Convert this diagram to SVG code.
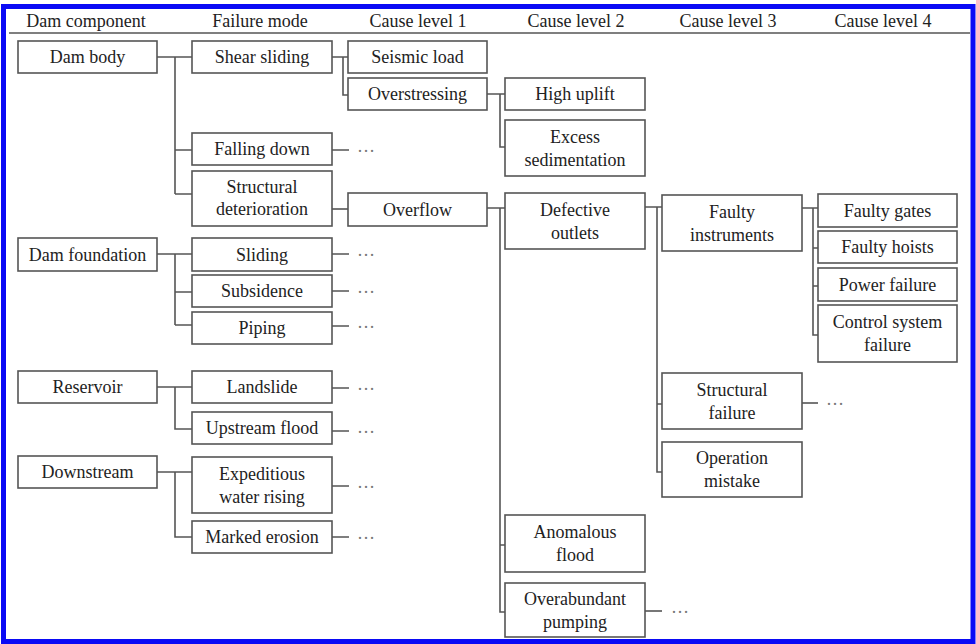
<svg xmlns="http://www.w3.org/2000/svg" width="976" height="644" viewBox="0 0 976 644">
<style>
  .box{fill:#fff;stroke:#555;stroke-width:1.6}
  text{font-family:'Liberation Serif','Times New Roman',Times,'DejaVu Serif',serif;font-size:18px}
  .t{fill:#222;text-anchor:middle}
  .h{fill:#222;text-anchor:middle}
  .c{fill:none;stroke:#555;stroke-width:1.6}
  .d{fill:#777}
</style>
<rect x="0" y="0" width="976" height="644" fill="#fff"/>
<rect x="3.5" y="6.5" width="969.5" height="635" fill="none" stroke="#0a0af5" stroke-width="5"/>
<g id="header" font-family="Liberation Serif, serif">
  <text class="h" x="86" y="27">Dam component</text>
  <text class="h" x="260" y="27">Failure mode</text>
  <text class="h" x="418" y="27">Cause level 1</text>
  <text class="h" x="576" y="27">Cause level 2</text>
  <text class="h" x="728" y="27">Cause level 3</text>
  <text class="h" x="883" y="27">Cause level 4</text>
  <line x1="9" y1="33" x2="970" y2="33" stroke="#555" stroke-width="1.6"/>
</g>
<g id="connectors">
  <path class="c" d="M157,57 H192 M175,57 V194 M175,150 H192 M175,194 H192"/>
  <path class="c" d="M157,254 H192 M175,254 V325 M175,292 H192 M175,325 H192"/>
  <path class="c" d="M157,387 H192 M175,387 V429 H192"/>
  <path class="c" d="M157,472 H192 M175,472 V537 H192"/>
  <path class="c" d="M332,150 H349 M332,254 H349 M332,291 H349 M332,326 H349 M332,388 H349 M332,431 H349 M332,486 H349 M332,537 H349"/>
  <path class="c" d="M332,57 H348 M343,57 V95 H348"/>
  <path class="c" d="M332,209 H348"/>
  <path class="c" d="M487,94 H505 M500,94 V147 H505"/>
  <path class="c" d="M487,208 H505 M500,208 V612 H505 M500,545 H505"/>
  <path class="c" d="M645,611 H662"/>
  <path class="c" d="M645,207 H662 M657,207 V472 H662 M657,404 H662"/>
  <path class="c" d="M802,403 H818"/>
  <path class="c" d="M802,208 H818 M813,208 V335 H818 M813,248 H818 M813,286 H818"/>
  <g id="ellipses">
    <text class="d" x="357" y="152">…</text>
    <text class="d" x="357" y="256">…</text>
    <text class="d" x="357" y="293">…</text>
    <text class="d" x="357" y="328">…</text>
    <text class="d" x="357" y="390">…</text>
    <text class="d" x="357" y="433">…</text>
    <text class="d" x="357" y="488">…</text>
    <text class="d" x="357" y="539">…</text>
    <text class="d" x="826" y="405">…</text>
    <text class="d" x="671" y="613">…</text>
  </g>
</g>
<g id="dam_body"><rect class="box" x="18" y="41" width="139" height="32"/><text class="t" x="87.5" y="63">Dam body</text></g>
<g id="dam_foundation"><rect class="box" x="18" y="238" width="139" height="33"/><text class="t" x="87.5" y="260.5">Dam foundation</text></g>
<g id="reservoir"><rect class="box" x="18" y="371" width="139" height="32"/><text class="t" x="87.5" y="393">Reservoir</text></g>
<g id="downstream"><rect class="box" x="18" y="456" width="139" height="32"/><text class="t" x="87.5" y="478">Downstream</text></g>

<g id="shear_sliding"><rect class="box" x="192" y="41" width="140" height="32"/><text class="t" x="262" y="63">Shear sliding</text></g>
<g id="falling_down"><rect class="box" x="192" y="133" width="140" height="32"/><text class="t" x="262" y="155">Falling down</text></g>
<g id="structural_deterioration"><rect class="box" x="192" y="171" width="140" height="55"/><text class="t" x="262" y="193">Structural</text><text class="t" x="262" y="215">deterioration</text></g>
<g id="sliding"><rect class="box" x="192" y="238" width="140" height="33"/><text class="t" x="262" y="260.5">Sliding</text></g>
<g id="subsidence"><rect class="box" x="192" y="275" width="140" height="32"/><text class="t" x="262" y="297">Subsidence</text></g>
<g id="piping"><rect class="box" x="192" y="312" width="140" height="32"/><text class="t" x="262" y="334">Piping</text></g>
<g id="landslide"><rect class="box" x="192" y="371" width="140" height="32"/><text class="t" x="262" y="393">Landslide</text></g>
<g id="upstream_flood"><rect class="box" x="192" y="412" width="140" height="32"/><text class="t" x="262" y="434">Upstream flood</text></g>
<g id="expeditious_water_rising"><rect class="box" x="192" y="457" width="140" height="56"/><text class="t" x="262" y="480">Expeditious</text><text class="t" x="262" y="503">water rising</text></g>
<g id="marked_erosion"><rect class="box" x="192" y="521" width="140" height="32"/><text class="t" x="262" y="543">Marked erosion</text></g>

<g id="seismic_load"><rect class="box" x="348" y="41" width="139" height="32"/><text class="t" x="417.5" y="63">Seismic load</text></g>
<g id="overstressing"><rect class="box" x="348" y="78" width="139" height="32"/><text class="t" x="417.5" y="100">Overstressing</text></g>
<g id="overflow"><rect class="box" x="348" y="193" width="139" height="33"/><text class="t" x="417.5" y="215.5">Overflow</text></g>

<g id="high_uplift"><rect class="box" x="505" y="78" width="140" height="32"/><text class="t" x="575" y="100">High uplift</text></g>
<g id="excess_sedimentation"><rect class="box" x="505" y="120" width="140" height="56"/><text class="t" x="575" y="142.5">Excess</text><text class="t" x="575" y="165.5">sedimentation</text></g>
<g id="defective_outlets"><rect class="box" x="505" y="193" width="140" height="56"/><text class="t" x="575" y="216">Defective</text><text class="t" x="575" y="239">outlets</text></g>
<g id="anomalous_flood"><rect class="box" x="505" y="515" width="140" height="57"/><text class="t" x="575" y="538">Anomalous</text><text class="t" x="575" y="561">flood</text></g>
<g id="overabundant_pumping"><rect class="box" x="505" y="583" width="140" height="54"/><text class="t" x="575" y="605">Overabundant</text><text class="t" x="575" y="628">pumping</text></g>

<g id="faulty_instruments"><rect class="box" x="662" y="195" width="140" height="56"/><text class="t" x="732" y="217.5">Faulty</text><text class="t" x="732" y="240.5">instruments</text></g>
<g id="structural_failure"><rect class="box" x="662" y="373" width="140" height="56"/><text class="t" x="732" y="395.5">Structural</text><text class="t" x="732" y="418.5">failure</text></g>
<g id="operation_mistake"><rect class="box" x="662" y="442" width="140" height="55"/><text class="t" x="732" y="464">Operation</text><text class="t" x="732" y="487">mistake</text></g>

<g id="faulty_gates"><rect class="box" x="818" y="194" width="139" height="33"/><text class="t" x="887.5" y="216.5">Faulty gates</text></g>
<g id="faulty_hoists"><rect class="box" x="818" y="231" width="139" height="32"/><text class="t" x="887.5" y="253">Faulty hoists</text></g>
<g id="power_failure"><rect class="box" x="818" y="268" width="139" height="33"/><text class="t" x="887.5" y="290.5">Power failure</text></g>
<g id="control_system_failure"><rect class="box" x="818" y="305" width="139" height="57"/><text class="t" x="887.5" y="328">Control system</text><text class="t" x="887.5" y="351">failure</text></g>
</svg>
